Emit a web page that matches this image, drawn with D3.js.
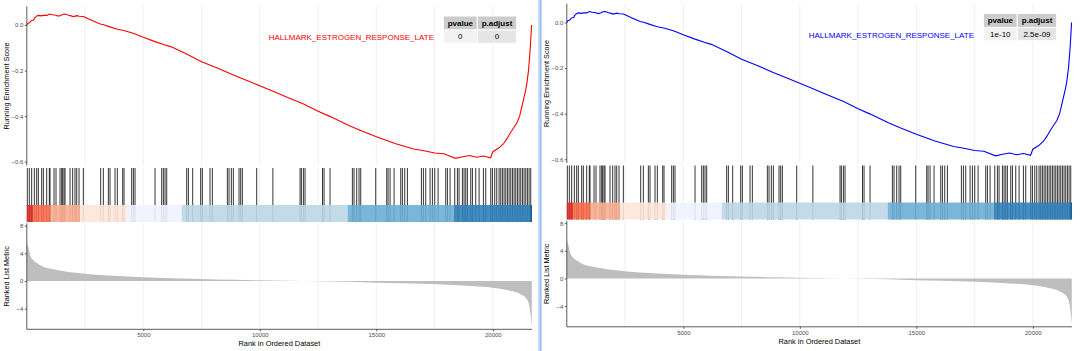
<!DOCTYPE html>
<html>
<head>
<meta charset="utf-8">
<script src="https://cdn.jsdelivr.net/npm/d3@7"></script>
<style>
 body { margin: 0; background: #fff; }
 svg { display: block; font-family: "Liberation Sans", Arial, sans-serif; }
</style>
</head>
<body>
<div id="chart"></div>
<script>
// ---- data ----
var totalGenes = 21680;

// running enrichment score (rank, score)
var esRank  = [0, 40, 120, 200, 300, 330, 430, 500, 640, 720, 860, 970, 1100, 1250, 1350, 1450, 1550, 1650, 1800, 1900, 2000, 2150, 2250, 2430, 2500, 2800, 3150, 3300, 3500, 3850, 4200, 4600, 5000, 5500, 5900, 6200, 6900, 7500, 8200, 8860, 9500, 10438, 11200, 11900, 12500, 13000, 13800, 14300, 15000, 15800, 16600, 17100, 17500, 17900, 18400, 18700, 19000, 19300, 19600, 19900, 20000, 20250, 20450, 20600, 20740, 20900, 21030, 21150, 21310, 21400, 21460, 21530, 21600, 21640, 21660];
var esScore = [0.0, 0.008, 0.01, 0.02, 0.022, 0.03, 0.04, 0.042, 0.04, 0.043, 0.042, 0.048, 0.045, 0.043, 0.039, 0.042, 0.047, 0.048, 0.043, 0.04, 0.037, 0.041, 0.038, 0.037, 0.034, 0.02, 0.004, 0.001, -0.006, -0.018, -0.025, -0.037, -0.054, -0.073, -0.087, -0.096, -0.13, -0.161, -0.19, -0.219, -0.246, -0.285, -0.318, -0.348, -0.378, -0.401, -0.44, -0.462, -0.49, -0.52, -0.544, -0.553, -0.562, -0.565, -0.585, -0.578, -0.573, -0.58, -0.575, -0.583, -0.556, -0.54, -0.522, -0.5, -0.475, -0.45, -0.43, -0.4, -0.33, -0.29, -0.256, -0.2, -0.11, -0.04, 0.0];

// gene set hits (rank positions)
var hitRanks = [23, 109, 209, 324, 424, 495, 638, 710, 853, 967, 996, 1168, 1254, 1425, 1497, 1540, 1597, 1640, 1854, 1969, 2069, 2141, 2241, 2427,
  3171, 3285, 3500, 3571, 3786, 3886, 4115, 4172, 4501, 4573, 4644, 5503, 5789, 5860, 5932, 6004, 6862, 6934, 7119, 7462, 7534, 7863, 7963,
  8607, 8678, 8778, 8864, 9107, 9179, 9251, 9866, 10560, 11726, 11783, 11869, 11940, 12690, 12756, 13013, 13972, 14043, 14158, 14258, 14330,
  14974, 15446, 15503, 15589, 15761, 16047, 16118, 16218, 16333, 16934, 17020, 17120, 17306, 17406, 17506, 17649, 17978, 18050, 18164,
  18365, 18479, 18550, 18694, 18765, 18837, 18908, 19051, 19123, 19266, 19409, 19595, 19695, 19910, 19981, 20081, 20167, 20267, 20339,
  20410, 20482, 20554, 20625, 20697, 20768, 20840, 20911, 20983, 21054, 21126, 21197, 21269, 21340, 21412, 21483, 21555, 21626];

// colour band segments (start rank, colour)
var bandStart  = [0, 270, 1020, 2280, 4290, 6650, 13770, 18350, 21620];
var bandColors = ["#DE2D26", "#FB6A4A", "#FCAE91", "#FEE5D9", "#EFF3FF", "#BDD7E7", "#6BAED6", "#3182BD", "#08519C"];

// ranked list metric (rank, value)
var metricRank  = [0, 30, 70, 140, 280, 495, 710, 1140, 1710, 2500, 3140, 5000, 7434, 8865, 10000, 11200, 12584, 15000, 16160, 17600, 19020, 20000, 20740, 21170, 21460, 21570, 21630, 21670];
var metricValue = [5.8, 5.2, 4.8, 3.76, 3.0, 2.46, 2.07, 1.69, 1.35, 1.06, 0.87, 0.53, 0.29, 0.17, 0.1, 0.02, -0.05, -0.24, -0.34, -0.48, -0.72, -0.96, -1.4, -1.88, -2.65, -3.7, -5.2, -6.6];

var xTicks = [5000, 10000, 15000, 20000];
var gridTicks = [2500, 5000, 7500, 10000, 12500, 15000, 17500, 20000];
var esTicks = [0, -0.2, -0.4, -0.6];
var metricTicks = [8, 4, 0, -4];

var geneSetName = "HALLMARK_ESTROGEN_RESPONSE_LATE";
var lineColors = ["#FF0000", "#0000FF"];
var pvalues = ["0", "1e-10"];
var padjusts = ["0", "2.5e-09"];

// ---- drawing ----
var svg = d3.select("#chart").append("svg")
  .attr("width", 1080)
  .attr("height", 351);

var x = d3.scaleLinear().domain([0, totalGenes]).range([26.8, 532]);
var yES = d3.scaleLinear().domain([-0.617, 0.082]).range([165.6, 6.3]);
var yMetric = d3.scaleLinear().domain([-6.98, 8.34]).range([329.3, 223.3]);
var hitTop = 168, hitBottom = 222, bandTop = 205;

function styleAxis(g) {
  g.select(".domain").remove();
  g.selectAll(".tick line").attr("stroke", "#333").attr("stroke-width", 0.8);
  g.selectAll(".tick text").attr("fill", "#4D4D4D").style("font-size", "6px")
    .style("font-family", "'Liberation Sans', Arial, sans-serif");
}

function drawPanel(i) {
  var g = svg.append("g")
    .attr("transform", "translate(" + (540 * i) + "," + (-2.5 * i) + ")");

  // grid
  [[yES.range()[1], yES.range()[0]], [hitTop, hitBottom], [yMetric.range()[1], yMetric.range()[0]]].forEach(function(r) {
    g.selectAll(null).data(gridTicks).enter().append("line")
      .attr("x1", function(d) { return x(d); })
      .attr("x2", function(d) { return x(d); })
      .attr("y1", r[0]).attr("y2", r[1])
      .attr("stroke", "#EBEBEB").attr("stroke-width", 0.8);
  });

  // running score line
  var line = d3.line()
    .x(function(d, j) { return x(esRank[j]); })
    .y(function(d) { return yES(d); });
  g.append("path")
    .datum(esScore)
    .attr("d", line)
    .attr("fill", "none")
    .attr("stroke", lineColors[i])
    .attr("stroke-width", 1.1);

  // top axis
  g.append("line").attr("x1", 26.8).attr("x2", 26.8)
    .attr("y1", yES.range()[1]).attr("y2", yES.range()[0])
    .attr("stroke", "#333").attr("stroke-width", 0.8);
  g.append("g").attr("transform", "translate(26.8,0)")
    .call(d3.axisLeft(yES).tickValues(esTicks).tickSize(2).tickPadding(1.5).tickFormat(d3.format(".1f")))
    .call(styleAxis);

  g.append("text")
    .attr("transform", "translate(9.4," + ((yES.range()[0] + yES.range()[1]) / 2) + ") rotate(-90)")
    .attr("text-anchor", "middle")
    .style("font-size", "7.3px")
    .attr("fill", "#000")
    .text("Running Enrichment Score");

  // hits
  g.selectAll(null).data(hitRanks).enter().append("line")
    .attr("x1", function(d) { return x(d); })
    .attr("x2", function(d) { return x(d); })
    .attr("y1", hitTop).attr("y2", hitBottom)
    .attr("stroke", "#000").attr("stroke-width", 0.8);

  // colour band
  g.selectAll(null).data(bandStart).enter().append("rect")
    .attr("x", function(d) { return x(d); })
    .attr("width", function(d, j) { return x(j < bandStart.length - 1 ? bandStart[j + 1] : totalGenes) - x(d); })
    .attr("y", bandTop).attr("height", hitBottom - bandTop)
    .attr("fill", function(d, j) { return bandColors[j]; })
    .attr("fill-opacity", 0.9);

  // ranked list metric
  var area = d3.area()
    .x(function(d, j) { return x(metricRank[j]); })
    .y0(yMetric(0))
    .y1(function(d) { return yMetric(d); })
    .curve(d3.curveMonotoneX);
  g.append("path")
    .datum(metricValue)
    .attr("d", area)
    .attr("fill", "#BEBEBE");

  g.append("line").attr("x1", 26.8).attr("x2", 26.8)
    .attr("y1", yMetric.range()[1]).attr("y2", yMetric.range()[0])
    .attr("stroke", "#333").attr("stroke-width", 0.8);
  g.append("line").attr("x1", 26.8).attr("x2", 532)
    .attr("y1", yMetric.range()[0]).attr("y2", yMetric.range()[0])
    .attr("stroke", "#333").attr("stroke-width", 0.8);
  g.append("g").attr("transform", "translate(26.8,0)")
    .call(d3.axisLeft(yMetric).tickValues(metricTicks).tickSize(2).tickPadding(1.5))
    .call(styleAxis);
  g.append("g").attr("transform", "translate(0," + yMetric.range()[0] + ")")
    .call(d3.axisBottom(x).tickValues(xTicks).tickSize(2).tickPadding(1.5).tickFormat(d3.format("d")))
    .call(styleAxis);

  g.append("text")
    .attr("transform", "translate(9.4," + ((yMetric.range()[0] + yMetric.range()[1]) / 2) + ") rotate(-90)")
    .attr("text-anchor", "middle")
    .style("font-size", "7.3px")
    .attr("fill", "#000")
    .text("Ranked List Metric");

  g.append("text")
    .attr("x", (x.range()[0] + x.range()[1]) / 2)
    .attr("y", 346)
    .attr("text-anchor", "middle")
    .style("font-size", "7.4px")
    .attr("fill", "#000")
    .text("Rank in Ordered Dataset");

  // p-value table
  var tx = 443.3, ty = 16, w1 = 34, w2 = 39.4, h1 = 14, h2 = 13.3;
  var cells = [
    {x: tx, y: ty, w: w1, h: h1, fill: "#CCCCCC", text: "pvalue", bold: true},
    {x: tx + w1, y: ty, w: w2, h: h1, fill: "#CCCCCC", text: "p.adjust", bold: true},
    {x: tx, y: ty + h1, w: w1, h: h2, fill: "#F2F2F2", text: pvalues[i], bold: false},
    {x: tx + w1, y: ty + h1, w: w2, h: h2, fill: "#E5E5E5", text: padjusts[i], bold: false}
  ];
  g.selectAll(null).data(cells).enter().append("rect")
    .attr("x", function(d) { return d.x; }).attr("y", function(d) { return d.y; })
    .attr("width", function(d) { return d.w; }).attr("height", function(d) { return d.h; })
    .attr("fill", function(d) { return d.fill; })
    .attr("stroke", "#fff").attr("stroke-width", 1);
  g.selectAll(null).data(cells).enter().append("text")
    .attr("x", function(d) { return d.x + d.w / 2; })
    .attr("y", function(d) { return d.y + d.h / 2 + 2.8; })
    .attr("text-anchor", "middle")
    .style("font-size", "8px")
    .style("font-weight", function(d) { return d.bold ? "bold" : "normal"; })
    .attr("fill", "#000")
    .text(function(d) { return d.text; });

  g.append("text")
    .attr("x", 434)
    .attr("y", 40)
    .attr("text-anchor", "end")
    .style("font-size", "8px")
    .attr("fill", lineColors[i])
    .text(geneSetName);
}

drawPanel(0);
drawPanel(1);

// separator between the two images
svg.append("rect").attr("x", 538).attr("y", 0).attr("width", 4).attr("height", 351)
  .attr("fill", "#C9DDF4");
svg.append("line").attr("x1", 540.5).attr("x2", 540.5).attr("y1", 0).attr("y2", 351)
  .attr("stroke", "#9CC3EE").attr("stroke-width", 1.5);
</script>
</body>
</html>
